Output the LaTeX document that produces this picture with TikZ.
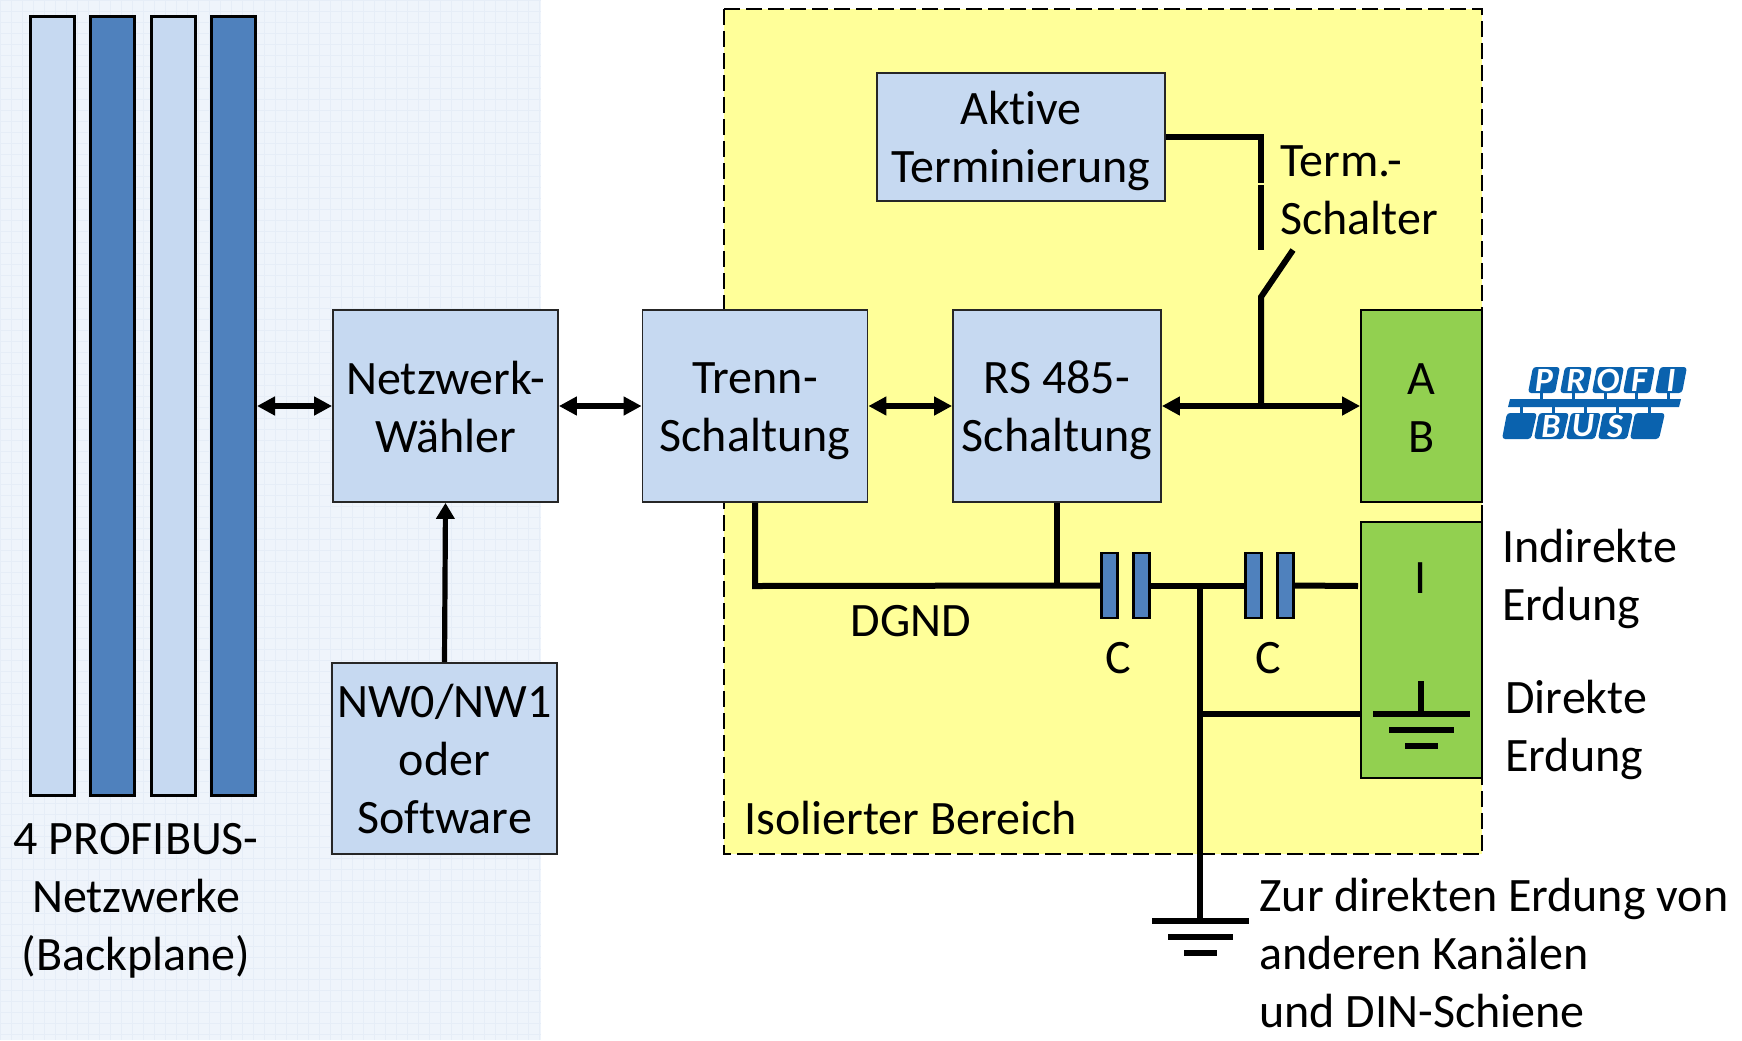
\documentclass[tikz,border=0pt]{standalone}
\usepackage{fontspec}
\setmainfont[Ligatures=NoCommon]{Carlito}
\usetikzlibrary{arrows.meta}
\newcommand{\ts}{\rule[-4pt]{0pt}{25pt}}
\definecolor{lblue}{HTML}{C6D9F1}
\definecolor{dblue}{HTML}{4F81BD}
\definecolor{yel}{HTML}{FFFF99}
\definecolor{grn}{HTML}{92D050}
\definecolor{pale}{HTML}{EFF4FB}
\definecolor{paleline}{HTML}{E6EDF7}
\definecolor{pblue}{HTML}{0A62AE}
\tikzset{
  txt/.style={font=\fontsize{24}{29}\selectfont,inner sep=0pt,align=center,text=black},
  ltxt/.style={txt,align=left,anchor=west},
  box/.style={draw=black!85,line width=0.9pt,fill=lblue,txt},
  gbox/.style={draw=black,line width=0.9pt,fill=grn,txt},
  barL/.style={draw=black,line width=1.5pt,fill=lblue},
  barD/.style={draw=black,line width=1.5pt,fill=dblue},
  capp/.style={draw=black,line width=1.2pt,fill=dblue,minimum width=8pt,minimum height=32.5pt,inner sep=0pt},
  wire/.style={draw=black,line width=3pt},
  biarrow/.style={draw=black,line width=2.6pt,{Triangle[length=9pt,width=9pt]}-{Triangle[length=9pt,width=9pt]}},
  uparrow/.style={draw=black,line width=2.6pt,-{Triangle[length=8pt,width=9pt]}},
  pbox/.style={fill=pblue,rounded corners=1.6pt},
  plet/.style={font=\fontsize{17}{17}\selectfont\bfseries\itshape,text=white,inner sep=0pt},
}
\begin{document}
\begin{tikzpicture}[x=0.5pt,y=-0.5pt]
\useasboundingbox (0,0) rectangle (1742,1040);
% backplane background
\fill[pale] (0,0) rectangle (541,1040);
\begin{scope}
\clip (0,0) rectangle (541,1040);
\foreach \gx in {0,11,...,541} \draw[paleline,line width=0.5pt] (\gx,0) -- (\gx,1040);
\foreach \gy in {0,11,...,1040} \draw[paleline,line width=0.5pt] (0,\gy) -- (541,\gy);
\end{scope}
% isolated area
\draw[fill=yel,draw=black,line width=1.2pt,dash pattern=on 8pt off 3pt] (724,9) rectangle (1482,854);
% bars
\node[barL,minimum width=22pt,minimum height=389.5pt,inner sep=0pt] (b1) at (52,405.5) {};
\node[barD,minimum width=22pt,minimum height=389.5pt,inner sep=0pt] (b2) at (112.5,405.5) {};
\node[barL,minimum width=22pt,minimum height=389.5pt,inner sep=0pt] (b3) at (173,405.5) {};
\node[barD,minimum width=22pt,minimum height=389.5pt,inner sep=0pt] (b4) at (233.5,405.5) {};
% boxes
\node[box,minimum width=144pt,minimum height=64pt] (akt) at (1021,137) {\ts Aktive\\\ts Terminierung};
\node[box,minimum width=112.5pt,minimum height=96pt] (net) at (445.5,406) {\ts Netzwerk-\\\ts Wähler};
\node[box,minimum width=112.5pt,minimum height=96pt] (tre) at (755,406) {\ts Trenn-\\\ts Schaltung};
\node[box,minimum width=104pt,minimum height=96pt] (rs) at (1057,406) {\ts RS 485-\\\ts Schaltung};
\node[gbox,minimum width=60.5pt,minimum height=96pt] (ab) at (1421.5,406) {\ts A\\\ts B};
\node[gbox,minimum width=60.5pt,minimum height=128pt] (ib) at (1421.5,650) {};
\node[box,minimum width=112.5pt,minimum height=95.5pt] (nw) at (444.5,758.5) {\ts NW0/NW1\\oder\\\ts Software};
% arrows
\draw[biarrow] (b4.east |- net.west) -- (net.west);
\draw[biarrow] (net.east) -- (tre.west);
\draw[biarrow] (tre.east) -- (rs.west);
\draw[biarrow] (rs.east) -- (ab.west);
\draw[uparrow] (nw.north) -- (net.south);
% termination switch
\coordinate (swa) at (1261,137);
\coordinate (swb) at (1261,183);
\coordinate (swc) at (1261,185);
\coordinate (swd) at (1261,250);
\coordinate (swe) at (1293,250);
\coordinate (swf) at (1261,297);
\coordinate (swg) at (1261,406);
\draw[wire] (akt.east |- swa) -- (swa) -- (swb);
\draw[wire] (swc) -- (swd);
\draw[wire] (swe) -- (swf) -- (swg);
% ground bus
\node[capp] (c1a) at (1109.5,585.5) {};
\node[capp] (c1b) at (1141.5,585.5) {};
\node[capp] (c2a) at (1253.5,585.5) {};
\node[capp] (c2b) at (1285.5,585.5) {};
\coordinate (busy) at (755,586);
\coordinate (jn) at (1200,586);
\coordinate (jb) at (1200,714);
\coordinate (gnd) at (1200,921);
\coordinate (ibl) at (1358,586);
\draw[wire] (tre.south) -- (busy) -- (c1a.west);
\draw[wire] (rs.south) -- (rs.south |- busy);
\draw[wire] (c1b.east) -- (c2a.west);
\draw[wire] (c2b.east) -- (ibl);
\draw[wire] (jn) -- (gnd);
\draw[wire] (jb) -- (ib.west |- jb);
% ground symbols
\coordinate (g1) at (1421,681);
\coordinate (g1b) at (1421,714);
\draw[wire] (g1) -- (g1b);
\draw[wire] (1373,714) -- (1470,714);
\draw[wire] (1389,730) -- (1454,730);
\draw[wire] (1405,746) -- (1438,746);
\draw[wire] (1152,921) -- (1249,921);
\draw[wire] (1168,937) -- (1233,937);
\draw[wire] (1184,953) -- (1217,953);
% labels
\node[ltxt] (tsw) at (1280,188.5) {\ts Term.-\\\ts Schalter};
\node[txt] (il) at (1421,576.5) {\ts I};
\node[ltxt] (ind) at (1502,574.5) {\ts Indirekte\\\ts Erdung};
\node[ltxt] (dir) at (1505,725.5) {\ts Direkte\\\ts Erdung};
\node[txt] (dg) at (911,619.5) {\ts DGND};
\node[txt] (cl1) at (1118,656.5) {\ts C};
\node[txt] (cl2) at (1268,656.5) {\ts C};
\node[ltxt] (iso) at (744,817.5) {\ts Isolierter Bereich};
\node[txt] (pn) at (136,895.5) {\ts 4 PROFIBUS-\\Netzwerke\\\ts (Backplane)};
\node[ltxt] (zur) at (1259,952.5) {\ts Zur direkten Erdung von\\anderen Kanälen\\\ts und DIN-Schiene};
% PROFIBUS logo
\foreach \xa/\l in {1530/P,1562/R,1594/O,1625/F,1657/I} {
  \fill[pblue] (\xa+10,392) rectangle (\xa+13,400);
  \fill[pbox] (\xa+3,367) -- (\xa+30,367) -- (\xa+25,393) -- (\xa-2,393) -- cycle;
  \node[plet] at (\xa+14,380) {\l};
}
\fill[pblue] (1510,399) -- (1681,399) -- (1679,407) -- (1508,407) -- cycle;
\foreach \xa/\l in {1504/{},1536/B,1568/U,1600/S,1632/{}} {
  \fill[pblue] (\xa+16,406) rectangle (\xa+19,414);
  \fill[pbox] (\xa+3,413) -- (\xa+33,413) -- (\xa+27,439) -- (\xa-2,439) -- cycle;
  \node[plet] at (\xa+15,426) {\l};
}
\end{tikzpicture}
\end{document}
